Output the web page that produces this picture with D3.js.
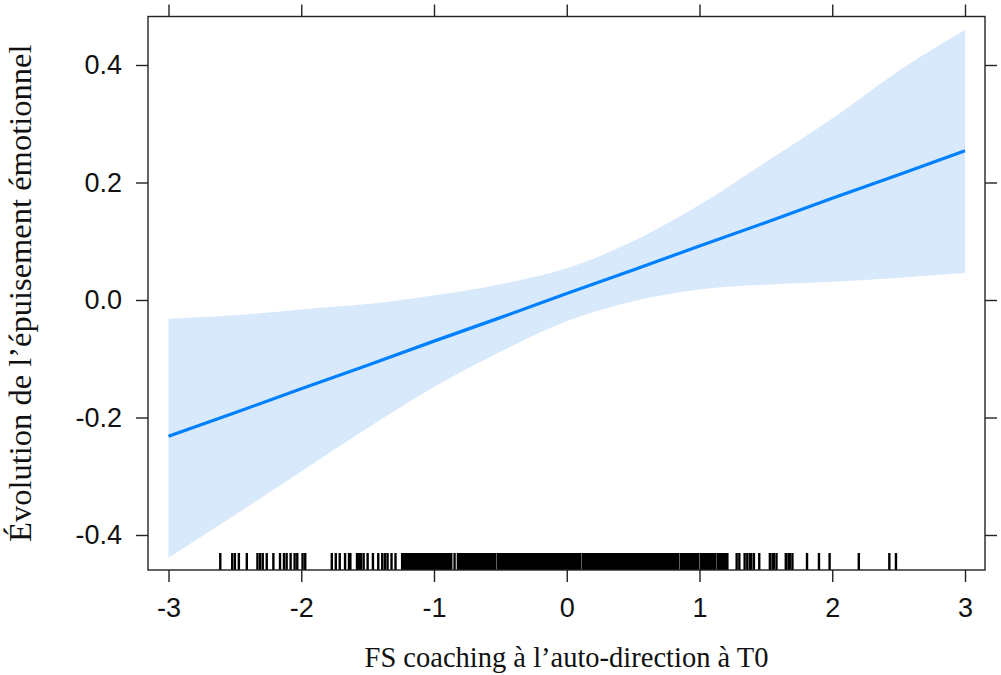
<!DOCTYPE html>
<html>

<head>
	<meta charset='utf-8' />
	<title></title>
	<script src="https://d3js.org/d3.v7.min.js"></script>
	<style>
		body {
			margin: 0;
			background: white;
		}

		.tick-label {
			font-family: "Liberation Sans", Arial, sans-serif;
			font-size: 27px;
			fill: #111;
		}

		.axis-title {
			font-family: "Liberation Serif", "Times New Roman", serif;
			fill: #111;
		}
	</style>
</head>

<body>
	<svg id="chart" width="1001" height="675"></svg>

	<script>
		// x values where the fitted effect and the band were read
		var xGrid = [-3, -2.5, -2, -1.5, -1, -0.5, 0, 0.5, 1, 1.5, 2, 2.5, 3];
		var fit = [-0.232, -0.192, -0.151, -0.111, -0.070, -0.030, 0.011, 0.051, 0.092, 0.132, 0.173, 0.213, 0.254];
		var upper = [-0.032, -0.026, -0.016, -0.007, 0.008, 0.027, 0.054, 0.100, 0.162, 0.235, 0.309, 0.390, 0.460];
		var lower = [-0.439, -0.366, -0.292, -0.218, -0.148, -0.088, -0.036, -0.002, 0.018, 0.026, 0.031, 0.038, 0.046];

		var xTicks = [-3, -2, -1, 0, 1, 2, 3];
		var yTicks = [-0.4, -0.2, 0.0, 0.2, 0.4];

		// observed predictor values (rug)
		var rug = [-2.61, -2.52, -2.50, -2.47, -2.41, -2.33, -2.31, -2.29, -2.26, -2.21, -2.16, -2.13, -2.11, -2.08, -2.05, -2.03, -1.99, -1.97,
			-1.77, -1.74, -1.71, -1.67, -1.64, -1.63, -1.58, -1.57, -1.56, -1.55, -1.53, -1.50, -1.46, -1.42, -1.39, -1.37, -1.35, -1.32, -1.29,
			-1.24, -1.23, -1.22, -1.21, -1.20, -1.19, -1.18, -1.17, -1.16, -1.15, -1.14, -1.13, -1.12, -1.11, -1.10, -1.09, -1.08, -1.07, -1.06,
			-1.05, -1.04, -1.03, -1.02, -1.01, -1.00, -0.99, -0.98, -0.97, -0.96, -0.95, -0.94, -0.93, -0.92, -0.91, -0.90, -0.89, -0.88, -0.87,
			-0.845,
			-0.82, -0.81, -0.80, -0.79, -0.78, -0.77, -0.76, -0.75, -0.74, -0.73, -0.72, -0.71, -0.70, -0.69, -0.68, -0.67, -0.66, -0.65, -0.64,
			-0.63, -0.62, -0.61, -0.60, -0.59, -0.58, -0.57, -0.56, -0.55, -0.54,
			-0.52, -0.51, -0.50, -0.49, -0.48, -0.47, -0.46, -0.45, -0.44, -0.43, -0.42, -0.41, -0.40, -0.39, -0.38, -0.37, -0.36, -0.35, -0.34,
			-0.33, -0.32, -0.31, -0.30, -0.29, -0.28, -0.27, -0.26, -0.25, -0.24, -0.23, -0.22, -0.21, -0.20, -0.19, -0.18, -0.17, -0.16, -0.15,
			-0.14, -0.13, -0.12, -0.11, -0.10, -0.09, -0.08, -0.07, -0.06, -0.05, -0.04, -0.03, -0.02, -0.01, 0.00, 0.01, 0.02, 0.03, 0.04,
			0.05, 0.06, 0.07, 0.08, 0.09, 0.10,
			0.12, 0.13, 0.14, 0.15, 0.16, 0.17, 0.18, 0.19, 0.20, 0.21, 0.22, 0.23, 0.24, 0.25, 0.26, 0.27, 0.28, 0.29, 0.30, 0.31, 0.32,
			0.33, 0.34, 0.35, 0.36, 0.37, 0.38, 0.39, 0.40, 0.41, 0.42, 0.43, 0.44, 0.45, 0.46, 0.47, 0.48, 0.49, 0.50, 0.51, 0.52, 0.53,
			0.54, 0.55, 0.56, 0.57, 0.58, 0.59, 0.60, 0.61, 0.62, 0.63, 0.64, 0.65, 0.66, 0.67, 0.68, 0.69, 0.70, 0.71, 0.72, 0.73, 0.74,
			0.75, 0.76, 0.77, 0.78, 0.79, 0.80, 0.81, 0.82, 0.83, 0.84,
			0.86, 0.87, 0.88, 0.89, 0.90, 0.91, 0.92, 0.93, 0.94, 0.95, 0.96, 0.97, 0.98, 0.99,
			1.01, 1.02, 1.03, 1.04, 1.05, 1.06, 1.07, 1.08, 1.09, 1.10, 1.11, 1.12,
			1.14, 1.15, 1.16, 1.17, 1.18, 1.19, 1.20, 1.21,
			1.28, 1.30, 1.34, 1.36, 1.38, 1.39, 1.41, 1.45, 1.53, 1.55, 1.56, 1.58, 1.65, 1.67, 1.68, 1.70, 1.81, 1.90, 1.98, 2.20, 2.43, 2.48];

		var xTitle = "FS coaching à l’auto-direction à T0";
		var yTitle = "Évolution de l’épuisement émotionnel";

		var svg = d3.select("#chart"),
			frame = { left: 148, right: 985, top: 16.5, bottom: 570 },
			tickLen = 12;

		var x = d3.scaleLinear()
			.domain([-3, 3])
			.range([168.5, 965]);

		var y = d3.scaleLinear()
			.domain([-0.4, 0.4])
			.range([535, 65]);

		// R style labels: plain hyphen for negatives
		const fx = d => d3.format("d")(d).replace("−", "-");
		const fy = d => d3.format(".1f")(d).replace("−", "-");

		var pts = xGrid.map((d, i) => ({ x: d, fit: fit[i], lo: lower[i], hi: upper[i] }));

		// confidence band
		svg.append("path")
			.datum(pts)
			.attr("fill", "#d8e9fc")
			.attr("d", d3.area()
				.curve(d3.curveCatmullRom)
				.x(d => x(d.x))
				.y0(d => y(d.lo))
				.y1(d => y(d.hi)));

		// fitted line
		svg.append("path")
			.datum(pts)
			.attr("fill", "none")
			.attr("stroke", "#0080ff")
			.attr("stroke-width", 3.2)
			.attr("d", d3.line()
				.x(d => x(d.x))
				.y(d => y(d.fit)));

		// rug
		svg.append("g")
			.selectAll("line")
			.data(rug)
			.enter().append("line")
			.attr("x1", d => x(d))
			.attr("x2", d => x(d))
			.attr("y1", frame.bottom)
			.attr("y2", frame.bottom - 17)
			.attr("stroke", "black")
			.attr("stroke-width", 2.4);

		// axes on all four sides
		var bottomAxis = svg.append("g")
			.attr("transform", `translate(0,${frame.bottom})`)
			.call(d3.axisBottom(x).tickValues(xTicks).tickSize(tickLen).tickPadding(16).tickFormat(fx));

		var topAxis = svg.append("g")
			.attr("transform", `translate(0,${frame.top})`)
			.call(d3.axisTop(x).tickValues(xTicks).tickSize(tickLen).tickFormat(""));

		var leftAxis = svg.append("g")
			.attr("transform", `translate(${frame.left},0)`)
			.call(d3.axisLeft(y).tickValues(yTicks).tickSize(tickLen).tickPadding(14).tickFormat(fy));

		var rightAxis = svg.append("g")
			.attr("transform", `translate(${frame.right},0)`)
			.call(d3.axisRight(y).tickValues(yTicks).tickSize(tickLen).tickFormat(""));

		svg.selectAll(".domain").remove();
		svg.selectAll(".tick line").attr("stroke", "#222").attr("stroke-width", 1.4);
		svg.selectAll(".tick text").attr("class", "tick-label").attr("fill", null);

		// frame
		svg.append("rect")
			.attr("x", frame.left)
			.attr("y", frame.top)
			.attr("width", frame.right - frame.left)
			.attr("height", frame.bottom - frame.top)
			.attr("fill", "none")
			.attr("stroke", "#222")
			.attr("stroke-width", 1.4);

		// titles
		svg.append("text")
			.attr("class", "axis-title")
			.attr("x", (frame.left + frame.right) / 2)
			.attr("y", 667)
			.attr("text-anchor", "middle")
			.style("font-size", "28.5px")
			.text(xTitle);

		svg.append("text")
			.attr("class", "axis-title")
			.attr("transform", `translate(31,${(frame.top + frame.bottom) / 2}) rotate(-90)`)
			.attr("text-anchor", "middle")
			.style("font-size", "32.5px")
			.text(yTitle);
	</script>

</body>

</html>
